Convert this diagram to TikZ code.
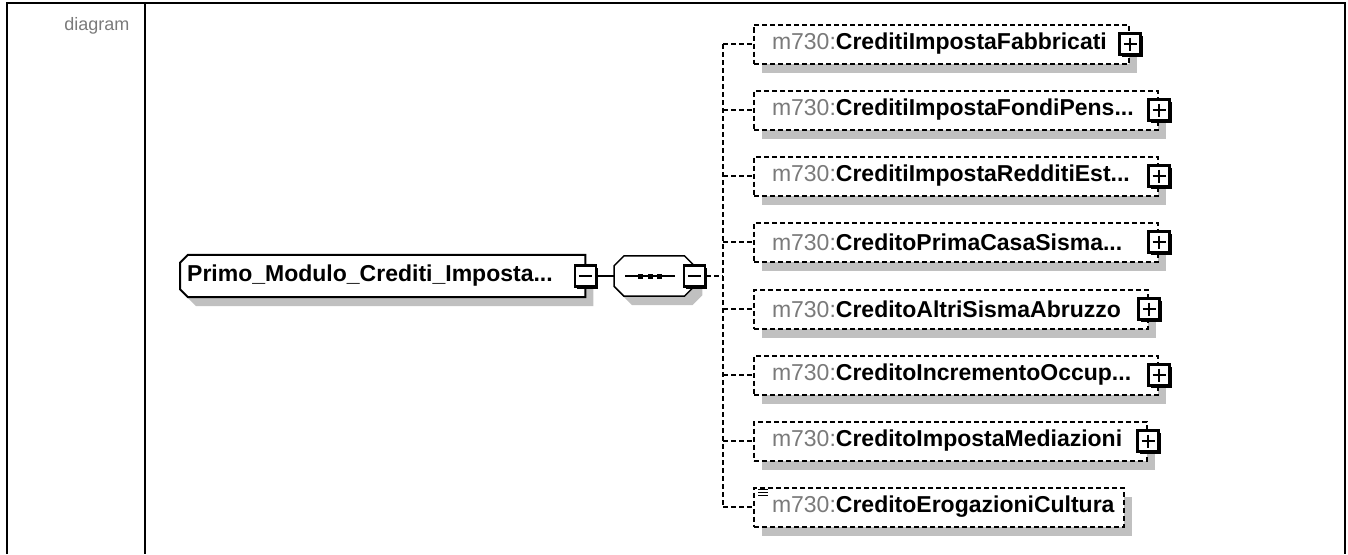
\documentclass[tikz,border=0pt]{standalone}
\usepackage{fontspec}
\setmainfont{Liberation Sans}
\usetikzlibrary{positioning,calc,backgrounds}
\definecolor{sgray}{HTML}{C0C0C0}
\definecolor{pgray}{HTML}{7A7A7A}
\definecolor{ink}{HTML}{000000}
\newcommand{\trunc}{...}
% outline with cut corners round a node: node, left cut, right cut, options
\newcommand{\bevel}[4]{%
  \draw[#4] ([xshift=#2]#1.north west) -- ([xshift=-#3]#1.north east)
    -- ([yshift=-#3]#1.north east) -- ([yshift=#3]#1.south east)
    -- ([xshift=-#3]#1.south east) -- ([xshift=#2]#1.south west)
    -- ([yshift=#2]#1.south west) -- ([yshift=-#2]#1.north west) -- cycle;}
\tikzset{
  every node/.style={font=\fontsize{23}{27}\selectfont},
  shd/.style ={preaction={fill=sgray, draw=none, transform canvas={shift={(8pt,-9pt)}}}},
  dsh/.style ={line width=2pt, dash pattern=on 5pt off 3pt, draw=ink},
  frm/.style ={line width=2.5pt, draw=ink},
  lbl/.style ={font=\fontsize{18}{22}\selectfont, text=pgray},
  ol/.style  ={shd, draw=ink, line width=2pt, fill=white},
  root/.style={minimum width=405pt, minimum height=42pt, inner xsep=7pt, inner ysep=0pt,
               text width=391pt, align=left, font=\fontsize{23}{27}\selectfont\bfseries},
  seq/.style ={minimum width=80pt, minimum height=40pt, inner sep=0pt},
  chd/.style ={shd, dsh, fill=white, minimum height=39pt, inner xsep=18pt, inner ysep=0pt,
               anchor=west, align=left},
  dot/.style ={fill=ink, minimum size=5pt, inner sep=0pt},
  tog/.style ={draw=ink, line width=2.2pt, fill=white, minimum size=21pt, inner sep=0pt,
               preaction={fill=ink, transform canvas={shift={(2.5pt,-2.5pt)}}}},
  minusb/.style={tog, path picture={
      \draw[line width=1.6pt] ($(path picture bounding box.west)+(4pt,0)$)
        -- ($(path picture bounding box.east)+(-4pt,0)$);}},
  plusb/.style={tog, path picture={
      \draw[line width=1.6pt] ($(path picture bounding box.west)+(4pt,0)$)
        -- ($(path picture bounding box.east)+(-4pt,0)$)
        ($(path picture bounding box.north)+(0,-4pt)$)
        -- ($(path picture bounding box.south)+(0,4pt)$);}},
}

\begin{document}
\begin{tikzpicture}[x=1pt, y=-1pt]
\useasboundingbox (0,0) rectangle (1348,554);

% ---------------- table frame ----------------------------------------------
\draw[frm] (7,554) -- (7,3) -- (1345,3) -- (1345,554);
\draw[frm] (145,3) -- (145,554);
\node[lbl, anchor=base east] (dlbl) at (133,30) {diagram};

% ---------------- root element + sequence -----------------------------------
\node[root, anchor=west] (root) at (180,276) {Primo\_Modulo\_Crediti\_Imposta\trunc};
\node[minusb] (rtog) at (root.east) {};
\node[seq, right=17pt of rtog] (seq) {};
\begin{scope}[on background layer]
  \bevel{root}{8pt}{0pt}{ol}
  \bevel{seq}{10pt}{10pt}{ol, line width=1.5pt}
\end{scope}
\draw[line width=1.4pt] ($(seq.center)+(-29pt,0)$) -- ($(seq.center)+(21pt,0)$);
\foreach \dx [count=\i] in {-14,-4,5}
  \node[dot] (sd\i) at ($(seq.center)+(\dx pt,0)$) {};
\node[minusb] (stog) at (seq.east) {};
\draw[line width=1.6pt] (rtog) -- (seq);

% ---------------- children ----------------------------------------------------
\foreach \nm/\w [count=\i from 0] in {CreditiImpostaFabbricati/375,
    CreditiImpostaFondiPens\trunc/404, CreditiImpostaRedditiEst\trunc/404,
    CreditoPrimaCasaSisma\trunc/404, CreditoAltriSismaAbruzzo/394,
    CreditoIncrementoOccup\trunc/404, CreditoImpostaMediazioni/393,
    CreditoErogazioniCultura/370}{
  \pgfmathsetmacro\cy{round(44+66.14*\i)}
  \pgfmathsetmacro\tw{\w-36}
  \coordinate (j\i) at (723,\cy);
  \node[chd, text width=\tw pt] (c\i) at (753,\cy)
    {\textcolor{pgray}{m730:}\textbf{\nm}};
  \draw[dsh] (j\i) -- (c\i.west);
  \ifnum\i<7
    \node[plusb] (p\i) at (c\i.east) {};
  \fi
}
% simple content mark
\foreach \k in {0,1,2}
  \draw[line width=1pt, draw=ink] ($(c7.north west)+(5,{3+3*\k})$) -- ++(10,0);

% ---------------- compositor line --------------------------------------------
\coordinate (jm) at (723,276);
\draw[dsh] (j0) -- (j7);
\draw[dsh] (stog.east) -- (jm);

\end{tikzpicture}
\end{document}
